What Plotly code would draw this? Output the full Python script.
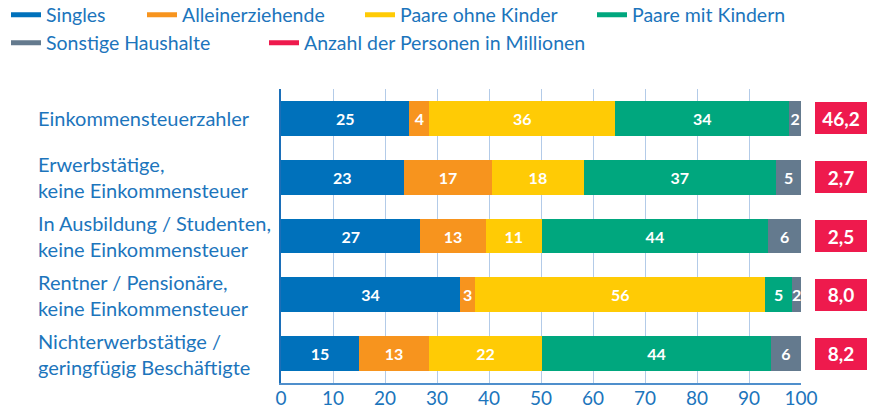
import plotly.graph_objects as go

# ---------------- data ----------------
categories = [
    "Einkommensteuerzahler",
    "Erwerbstätige,<br>keine Einkommensteuer",
    "In Ausbildung / Studenten,<br>keine Einkommensteuer",
    "Rentner / Pensionäre,<br>keine Einkommensteuer",
    "Nichterwerbstätige /<br>geringfügig Beschäftigte",
]

series_names = ["Singles", "Alleinerziehende", "Paare ohne Kinder",
                "Paare mit Kindern", "Sonstige Haushalte"]

singles = [24.7, 23.6, 26.8, 34.4, 15.0]
allein = [3.8, 17.0, 12.6, 3.0, 13.5]
paare_ohne = [35.8, 17.6, 10.7, 55.7, 21.7]
paare_mit = [33.4, 37.0, 43.6, 5.2, 44.0]
sonstige = [2.3, 4.8, 6.3, 1.7, 5.8]

singles_lbl = [25, 23, 27, 34, 15]
allein_lbl = [4, 17, 13, 3, 13]
paare_ohne_lbl = [36, 18, 11, 56, 22]
paare_mit_lbl = [34, 37, 44, 5, 44]
sonstige_lbl = [2, 5, 6, 2, 6]

persons_name = "Anzahl der Personen in Millionen"
persons = [46.2, 2.7, 2.5, 8.0, 8.2]

x_ticks = [0, 10, 20, 30, 40, 50, 60, 70, 80, 90, 100]

# ---------------- style ----------------
colors = ["#0071BB", "#F7941E", "#FFCB05", "#00A77E", "#647A8E"]
red = "#EE1A4D"
text_blue = "#1C75BC"
FONT = "Lato"

W, H = 872, 409

ML = 281
MT = 89
MB = H - 383
MR = W - 867
plot_w = W - ML - MR
x_dom_end = (801 - ML) / plot_w
x2_dom_start = (815 - ML) / plot_w

fig = go.Figure()

values = [singles, allein, paare_ohne, paare_mit, sonstige]
labels = [singles_lbl, allein_lbl, paare_ohne_lbl, paare_mit_lbl, sonstige_lbl]

for name, vals, lbls, col in zip(series_names, values, labels, colors):
    fig.add_trace(go.Bar(
        y=categories, x=vals, orientation="h", name=name,
        marker=dict(color=col, line=dict(width=0)),
        text=[str(v) for v in lbls], textposition="inside",
        insidetextanchor="middle", textangle=0, constraintext="none",
        textfont=dict(color="white", size=16, family=FONT, weight="bold"),
        showlegend=False, hoverinfo="skip",
    ))

fig.add_trace(go.Bar(
    y=categories, x=[1] * len(persons), orientation="h", name=persons_name,
    xaxis="x2", yaxis="y", width=0.545,
    marker=dict(color=red, line=dict(width=0)),
    text=[f"{v:.1f}".replace(".", ",") for v in persons], textposition="inside",
    insidetextanchor="middle", textangle=0, constraintext="none",
    textfont=dict(color="white", size=19, family=FONT, weight="bold"),
    showlegend=False, hoverinfo="skip",
))

# legend entries (line symbols), each in its own legend for exact placement
legend_text_start = [(46, 15), (182, 15), (400, 15), (632, 15), (46, 43), (304, 43)]
legend_cols = colors + [red]
legend_names = series_names + [persons_name]
for i, (nm, col) in enumerate(zip(legend_names, legend_cols)):
    lg = "legend" if i == 0 else f"legend{i+1}"
    fig.add_trace(go.Scatter(
        x=[None], y=[categories[0]], mode="lines", name=nm,
        line=dict(color=col, width=5), legend=lg, showlegend=True,
        hoverinfo="skip",
    ))

legend_layouts = {}
for i, (px, py) in enumerate(legend_text_start):
    key = "legend" if i == 0 else f"legend{i+1}"
    legend_layouts[key] = dict(
        xref="container", yref="container",
        x=(px - 40) / W, y=1 - py / H,
        xanchor="left", yanchor="middle",
        bgcolor="rgba(0,0,0,0)", borderwidth=0,
        font=dict(family=FONT, size=19.5, color=text_blue),
        itemclick=False, itemdoubleclick=False,
    )

# category labels (left aligned)
annotations = []
for c in categories:
    annotations.append(dict(
        xref="paper", yref="y", x=(36 - ML) / plot_w, y=c,
        xanchor="left", yanchor="middle", align="left",
        text=c, showarrow=False,
        font=dict(family=FONT, size=20, color=text_blue),
    ))

fig.update_layout(
    width=W, height=H,
    margin=dict(l=ML, r=MR, t=MT, b=MB, pad=0, autoexpand=False),
    paper_bgcolor="white", plot_bgcolor="white",
    barmode="stack", bargap=0.405,
    annotations=annotations,
    xaxis=dict(
        domain=[0, x_dom_end], range=[0, 100], type="linear",
        tickvals=x_ticks, ticktext=[str(t) for t in x_ticks],
        showgrid=True, gridcolor="#B3CBE8", gridwidth=1,
        zeroline=False, showline=True, linecolor="#4F8FCC", linewidth=1.5,
        ticks="", ticklabelstandoff=-3,
        tickfont=dict(family=FONT, size=19, color=text_blue),
        fixedrange=True,
    ),
    xaxis2=dict(
        domain=[x2_dom_start, 1], range=[0, 1], anchor="y", type="linear",
        showgrid=False, zeroline=False, showline=False,
        showticklabels=False, ticks="", fixedrange=True,
    ),
    yaxis=dict(
        type="category",
        categoryorder="array", categoryarray=categories,
        range=[len(categories) - 0.5, -0.5],
        showgrid=False, zeroline=False, showticklabels=False,
        showline=True, linecolor="#1C6FB8", linewidth=1.5, ticks="",
        fixedrange=True,
    ),
    **legend_layouts,
)

fig.write_html(
    "out.html",
    config={"displayModeBar": False, "staticPlot": False},
    post_script="document.body.style.margin='0px';",
)
